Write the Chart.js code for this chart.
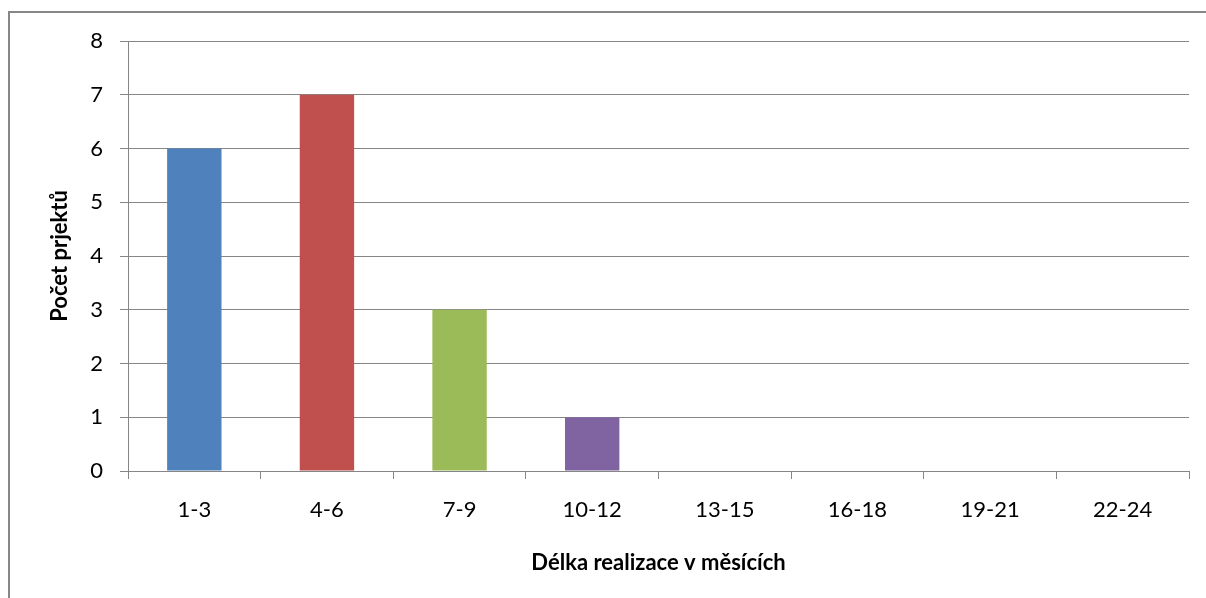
<!DOCTYPE html>
<html>
<head>
<meta charset="utf-8">
<script src="https://cdn.jsdelivr.net/npm/chart.js@4/dist/chart.umd.min.js"></script>
<style>
  html, body { margin: 0; padding: 0; background: #fff; overflow: hidden; }
  #frame { position: absolute; left: 8px; top: 11px; width: 1300px; height: 700px; border: 2px solid #878787; }
  #wrap { position: absolute; left: 0; top: 0; width: 1206px; height: 598px; }
</style>
</head>
<body>
<div id="frame"></div>
<div id="wrap"><canvas id="c" width="1206" height="598"></canvas></div>
<script>
// data
const categories = ['1-3', '4-6', '7-9', '10-12', '13-15', '16-18', '19-21', '22-24'];
const projectCounts = [6, 7, 3, 1, 0, 0, 0, 0];
const barColors = ['#4F81BD', '#C0504D', '#9BBB59', '#8064A2', '#4BACC6', '#F79646', '#2C4D75', '#772C2A'];
const yTicks = [0, 1, 2, 3, 4, 5, 6, 7, 8];
const xTitle = 'Délka realizace v měsících';
const yTitle = 'Počet prjektů';

const gridGray = '#868686';
const fontFamily = 'Lato, "Liberation Sans", sans-serif';
const fontSize = 22;

new Chart(document.getElementById('c'), {
  type: 'bar',
  data: {
    labels: categories,
    datasets: [{
      data: projectCounts,
      backgroundColor: barColors,
      borderWidth: 0,
      categoryPercentage: 1,
      barPercentage: 0.41
    }]
  },
  options: {
    responsive: false,
    animation: false,
    layout: { padding: { left: 0, top: 41, right: 17, bottom: 0 } },
    plugins: {
      legend: { display: false },
      tooltip: { enabled: false }
    },
    scales: {
      x: {
        grid: { drawOnChartArea: false, drawTicks: true, tickLength: 8, color: gridGray, offset: true },
        border: { color: gridGray, width: 1 },
        ticks: { color: '#000', padding: 18, font: { family: fontFamily, size: fontSize }, maxRotation: 0 },
        title: { display: true, text: xTitle, color: '#000', padding: { top: 0, bottom: 22 }, font: { family: fontFamily, size: fontSize, weight: 'bold' } },
        afterFit: (s) => { s.height = 127; }
      },
      y: {
        min: 0,
        max: 8,
        afterBuildTicks: (s) => { s.ticks = yTicks.map(v => ({ value: v })); },
        grid: { color: gridGray, tickLength: 8, lineWidth: 1 },
        border: { color: gridGray, width: 1 },
        ticks: { color: '#000', padding: 17, font: { family: fontFamily, size: fontSize } },
        title: { display: true, text: yTitle, color: '#000', padding: { top: 47, bottom: 0 }, font: { family: fontFamily, size: fontSize, weight: 'bold' } },
        afterFit: (s) => { s.width = 128; }
      }
    }
  }
});
</script>
</body>
</html>
